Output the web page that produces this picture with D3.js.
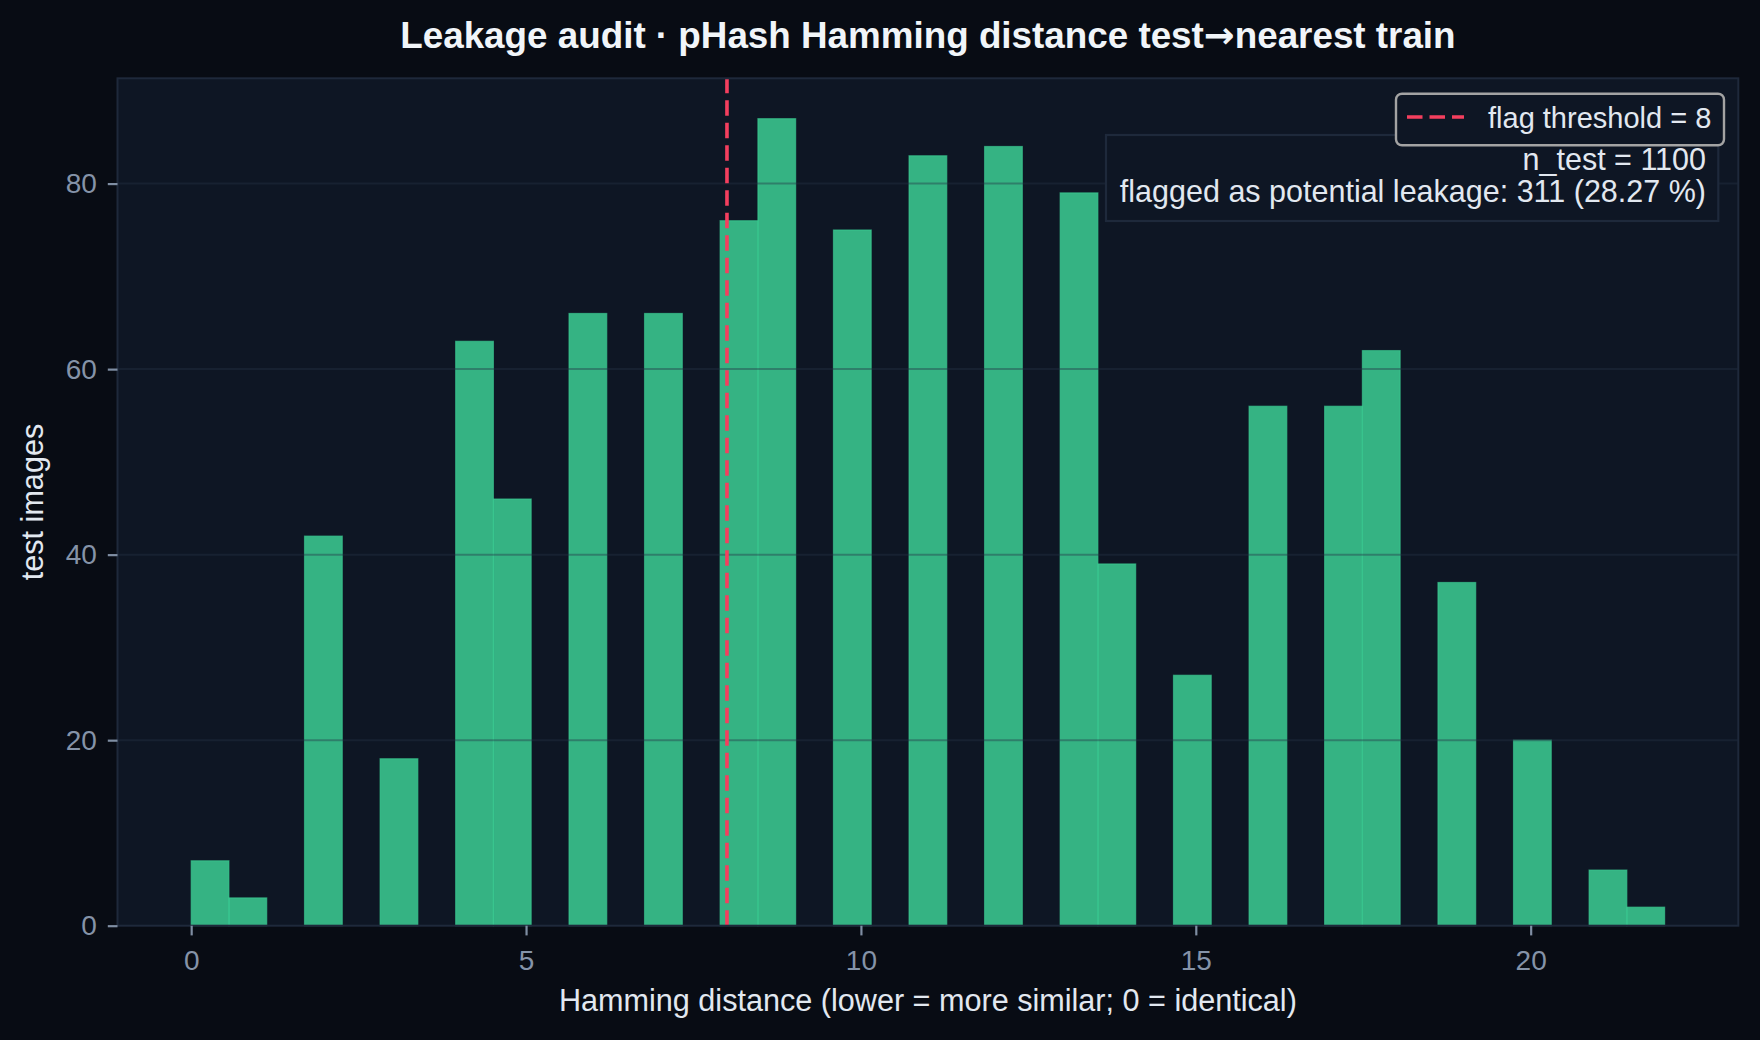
<!DOCTYPE html>
<html lang="en">
<head>
  <meta charset="UTF-8">
  <title>Leakage audit</title>
  <style>
    html, body { margin: 0; padding: 0; background: #080c14; }
    svg text { font-family: "Liberation Sans", Arial, sans-serif; }
  </style>
</head>
<body>
  <script src="https://cdn.jsdelivr.net/npm/d3@7/dist/d3.min.js"></script>
  <script>
    // hamming distance test -> nearest train, counts per distance
    const distances = [0, 1, 2, 3, 4, 5, 6, 7, 8, 9, 10, 11, 12, 13, 14, 15, 16, 17, 18, 19, 20, 21, 22]
    const counts = [7, 3, 42, 18, 63, 46, 66, 66, 76, 87, 75, 83, 84, 79, 39, 27, 56, 56, 62, 37, 20, 6, 2]
    const xTicks = [0, 5, 10, 15, 20]
    const yTicks = [0, 20, 40, 60, 80]
    const threshold = 8
    const nBins = 39
    const nTest = 1100
    const nFlagged = 311

    const width = 1760
    const height = 1040
    const pLeft = 117.5, pRight = 1738.3, pTop = 78.3, pBottom = 925.7

    // expand to samples, then bin like a histogram with 39 bins over [0, 22]
    const samples = distances.flatMap((d, i) => Array(counts[i]).fill(d))
    const lo = d3.min(distances), hi = d3.max(distances)
    const binW = (hi - lo) / nBins
    const bins = d3.bin()
      .domain([lo, hi])
      .thresholds(d3.range(1, nBins).map(i => lo + i * binW))(samples)

    const pad = (hi - lo) * 0.05
    const x = d3.scaleLinear().domain([lo - pad, hi + pad]).range([pLeft, pRight])
    const yMax = d3.max(bins, b => b.length) * 1.05
    const y = d3.scaleLinear().domain([0, yMax]).range([pBottom, pTop])

    const svg = d3.select('body').append('svg')
      .attr('width', width)
      .attr('height', height)
      .style('display', 'block')

    svg.append('rect').attr('width', width).attr('height', height).attr('fill', '#080c14')
    svg.append('rect')
      .attr('x', pLeft).attr('y', pTop)
      .attr('width', pRight - pLeft).attr('height', pBottom - pTop)
      .attr('fill', '#0e1624')

    // bars
    svg.append('g')
      .selectAll('rect')
      .data(bins.filter(b => b.length > 0))
      .enter()
      .append('rect')
      .attr('x', b => x(b.x0))
      .attr('y', b => y(b.length))
      .attr('width', b => x(b.x1) - x(b.x0))
      .attr('height', b => y(0) - y(b.length))
      .attr('fill', '#3ccf94')
      .attr('fill-opacity', 0.85)
      .attr('stroke', '#3ccf94')
      .attr('stroke-opacity', 0.6)
      .attr('stroke-width', 1.2)

    // grid (drawn over patches, like matplotlib)
    svg.append('g')
      .selectAll('line')
      .data(yTicks.filter(t => t > 0))
      .enter()
      .append('line')
      .attr('x1', pLeft).attr('x2', pRight)
      .attr('y1', d => y(d)).attr('y2', d => y(d))
      .attr('stroke', '#263247')
      .attr('stroke-opacity', 0.4)
      .attr('stroke-width', 2)

    // threshold line
    svg.append('line')
      .attr('x1', x(threshold)).attr('x2', x(threshold))
      .attr('y1', pBottom).attr('y2', pTop)
      .attr('stroke', '#f43f5e')
      .attr('stroke-width', 3.6)
      .attr('stroke-dasharray', '15.5 7')

    // spines
    svg.append('rect')
      .attr('x', pLeft).attr('y', pTop)
      .attr('width', pRight - pLeft).attr('height', pBottom - pTop)
      .attr('fill', 'none')
      .attr('stroke', '#1e293b')
      .attr('stroke-width', 2)

    // axes
    const xAxis = svg.append('g')
      .attr('transform', `translate(0,${pBottom})`)
      .call(d3.axisBottom(x).tickValues(xTicks).tickFormat(d3.format('d')).tickSize(9.7).tickPadding(14.5))
    const yAxis = svg.append('g')
      .attr('transform', `translate(${pLeft},0)`)
      .call(d3.axisLeft(y).tickValues(yTicks).tickFormat(d3.format('d')).tickSize(9.7).tickPadding(11))
    for (const g of [xAxis, yAxis]) {
      g.select('.domain').remove()
      g.selectAll('.tick line').attr('stroke', '#7f8ea3').attr('stroke-width', 2.2)
      g.selectAll('.tick text')
        .attr('fill', '#8593a8')
        .style('font-size', '28px')
        .style('font-family', '"Liberation Sans", Arial, sans-serif')
    }

    // labels
    const title = svg.append('text')
      .attr('x', (pLeft + pRight) / 2).attr('y', 48)
      .attr('text-anchor', 'middle')
      .attr('fill', '#f1f5f9')
      .style('font-size', '36.8px')
      .style('font-weight', 'bold')
    title.append('tspan').text('Leakage audit · pHash Hamming distance test')
    title.append('tspan').style('font-family', '"DejaVu Sans", sans-serif').text('→')
    title.append('tspan').text('nearest train')

    svg.append('text')
      .attr('x', (pLeft + pRight) / 2).attr('y', 1011)
      .attr('text-anchor', 'middle')
      .attr('fill', '#e2e8f0')
      .style('font-size', '30.6px')
      .text('Hamming distance (lower = more similar; 0 = identical)')

    svg.append('text')
      .attr('transform', `translate(43,${(pTop + pBottom) / 2}) rotate(-90)`)
      .attr('text-anchor', 'middle')
      .attr('fill', '#e2e8f0')
      .style('font-size', '30.6px')
      .text('test images')

    // stats box
    svg.append('rect')
      .attr('x', 1106).attr('y', 135)
      .attr('width', 612.3).attr('height', 86)
      .attr('fill', '#0e1624')
      .attr('stroke', '#1e293b')
      .attr('stroke-width', 2.2)
    const pct = (nFlagged / nTest * 100).toFixed(2)
    const statLines = [`n_test = ${nTest}`, `flagged as potential leakage: ${nFlagged} (${pct} %)`]
    svg.append('g')
      .selectAll('text')
      .data(statLines)
      .enter()
      .append('text')
      .attr('x', 1706)
      .attr('y', (d, i) => 169.5 + i * 32)
      .attr('text-anchor', 'end')
      .attr('fill', '#e2e8f0')
      .style('font-size', '30.5px')
      .text(d => d)

    // legend
    const leg = svg.append('g')
    leg.append('rect')
      .attr('x', 1396).attr('y', 93.7)
      .attr('width', 328).attr('height', 51.6)
      .attr('rx', 6)
      .attr('fill', '#0e1624')
      .attr('stroke', '#a3a3a3')
      .attr('stroke-width', 2.4)
    leg.append('line')
      .attr('x1', 1407).attr('x2', 1464)
      .attr('y1', 117).attr('y2', 117)
      .attr('stroke', '#f43f5e')
      .attr('stroke-width', 3.6)
      .attr('stroke-dasharray', '15.5 7')
    leg.append('text')
      .attr('x', 1488).attr('y', 128)
      .attr('fill', '#e2e8f0')
      .style('font-size', '29px')
      .text(`flag threshold = ${threshold}`)
  </script>
</body>
</html>
